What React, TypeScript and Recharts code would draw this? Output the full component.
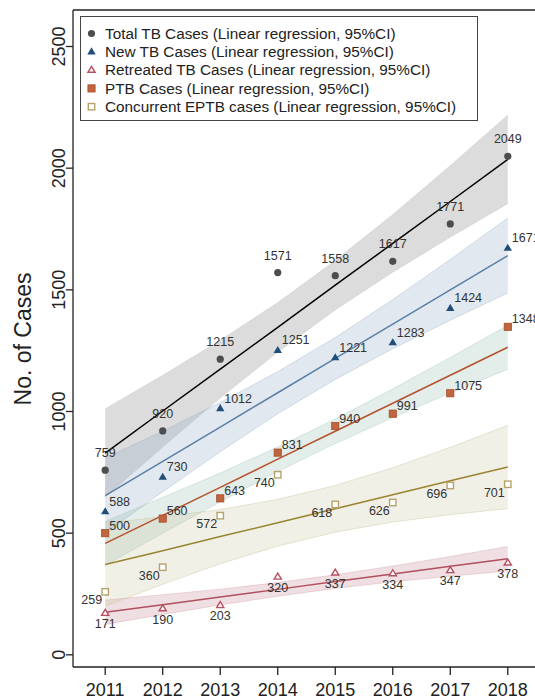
import { ComposedChart, Area, Line, XAxis, YAxis, ReferenceLine } from "recharts";

const years = [2011, 2012, 2013, 2014, 2015, 2016, 2017, 2018];

// observed cases
const totalCases = [759, 920, 1215, 1571, 1558, 1617, 1771, 2049];
const newCases = [588, 730, 1012, 1251, 1221, 1283, 1424, 1671];
const retreatedCases = [171, 190, 203, 320, 337, 334, 347, 378];
const ptbCases = [500, 560, 643, 831, 940, 991, 1075, 1348];
const eptbCases = [259, 360, 572, 740, 618, 626, 696, 701];

// fitted lines and 95% CI bounds
const totalFit = [829, 1002, 1174, 1346, 1519, 1691, 1863, 2036];
const totalLow = [648, 854, 1055, 1244, 1417, 1572, 1716, 1854];
const totalHigh = [1011, 1149, 1293, 1448, 1621, 1810, 2011, 2218];

const newFit = [654, 795, 936, 1077, 1218, 1359, 1500, 1641];
const newLow = [500, 670, 835, 991, 1132, 1258, 1375, 1487];
const newHigh = [808, 920, 1037, 1164, 1304, 1460, 1625, 1795];

const retreatedFit = [175, 206, 238, 269, 301, 332, 364, 395];
const retreatedLow = [125, 166, 205, 241, 273, 300, 323, 345];
const retreatedHigh = [225, 247, 270, 297, 329, 365, 404, 445];

const ptbFit = [458, 573, 688, 804, 919, 1034, 1149, 1264];
const ptbLow = [368, 500, 629, 753, 868, 975, 1076, 1174];
const ptbHigh = [548, 647, 747, 854, 969, 1093, 1222, 1354];

const eptbFit = [371, 428, 486, 543, 600, 658, 715, 772];
const eptbLow = [200, 290, 374, 447, 504, 546, 576, 601];
const eptbHigh = [542, 567, 597, 639, 696, 769, 853, 943];

const yTicks = [0, 500, 1000, 1500, 2000, 2500];

const legendItems = [
  "Total TB Cases (Linear regression, 95%CI)",
  "New TB Cases (Linear regression, 95%CI)",
  "Retreated TB Cases (Linear regression, 95%CI)",
  "PTB Cases (Linear regression, 95%CI)",
  "Concurrent EPTB cases (Linear regression, 95%CI)",
];

const FONT = "'Liberation Sans', Arial, sans-serif";
const LABEL_COLOR = "#333";

const data = years.map((year, i) => ({
  year,
  total: totalCases[i],
  newc: newCases[i],
  retreated: retreatedCases[i],
  ptb: ptbCases[i],
  eptb: eptbCases[i],
  totalFit: totalFit[i],
  newFit: newFit[i],
  retreatedFit: retreatedFit[i],
  ptbFit: ptbFit[i],
  eptbFit: eptbFit[i],
  totalBand: [totalLow[i], totalHigh[i]],
  newBand: [newLow[i], newHigh[i]],
  retreatedBand: [retreatedLow[i], retreatedHigh[i]],
  ptbBand: [ptbLow[i], ptbHigh[i]],
  eptbBand: [eptbLow[i], eptbHigh[i]],
}));

type Kind = "total" | "new" | "retreated" | "ptb" | "eptb";

function Marker({ kind, x, y }: { kind: Kind; x: number; y: number }) {
  if (kind === "total") return <circle cx={x} cy={y} r={3.6} fill="#4d4d4d" />;
  if (kind === "new")
    return <polygon points={`${x},${y - 4.5} ${x + 4.2},${y + 2.6} ${x - 4.2},${y + 2.6}`} fill="#1f4e79" />;
  if (kind === "retreated")
    return (
      <polygon
        points={`${x},${y - 3.8} ${x + 3.6},${y + 2.2} ${x - 3.6},${y + 2.2}`}
        fill="#fff"
        stroke="#b8505f"
        strokeWidth={1.4}
      />
    );
  if (kind === "ptb")
    return <rect x={x - 3.6} y={y - 3.6} width={7.2} height={7.2} fill="#c0663e" stroke="#a64c2a" strokeWidth={0.8} />;
  return <rect x={x - 3.2} y={y - 3.2} width={6.4} height={6.4} fill="#fff" stroke="#b4a368" strokeWidth={1.4} />;
}

const makeDot = (kind: Kind) => (props: any) => {
  const { cx, cy, value, index } = props;
  if (cx == null || cy == null) return <g key={`${kind}-${index}`} />;
  let tx = cx;
  let ty = cy;
  let anchor: "start" | "middle" | "end" = "middle";
  if (kind === "total") {
    ty = cy - 13;
  } else if (kind === "new") {
    tx = cx + 4;
    ty = cy - 6;
    anchor = "start";
  } else if (kind === "retreated") {
    ty = cy + 15;
  } else if (kind === "ptb") {
    tx = cx + 4;
    ty = cy - 3.5;
    anchor = "start";
  } else {
    tx = cx - 3;
    ty = cy + 12.5;
    anchor = "end";
  }
  return (
    <g key={`${kind}-${index}`}>
      <Marker kind={kind} x={cx} y={cy} />
      <text x={tx} y={ty} textAnchor={anchor} fontSize={12.5} fill={LABEL_COLOR} fontFamily={FONT}>
        {value}
      </text>
    </g>
  );
};

const YTick = (props: any) => {
  const { y, payload } = props;
  return (
    <text x={65} y={y} transform={`rotate(-90, 65, ${y})`} textAnchor="middle" fontSize={18} fill="#222" fontFamily={FONT}>
      {payload.value}
    </text>
  );
};

const XTick = (props: any) => {
  const { x, payload } = props;
  return (
    <text x={x} y={696} textAnchor="middle" fontSize={18} fill="#222" fontFamily={FONT}>
      {payload.value}
    </text>
  );
};

const YLabel = () => (
  <text x={31} y={339} transform="rotate(-90, 31, 339)" textAnchor="middle" fontSize={23} fill="#222" fontFamily={FONT}>
    No. of Cases
  </text>
);

function LegendBox() {
  const kinds: Kind[] = ["total", "new", "retreated", "ptb", "eptb"];
  return (
    <div
      style={{
        position: "absolute",
        left: 80,
        top: 16,
        width: 398,
        height: 105,
        border: "1px solid #444",
        background: "#fff",
        boxSizing: "border-box",
      }}
    >
      <svg width={398} height={105} style={{ position: "absolute", left: 0, top: 0 }}>
        {legendItems.map((label, i) => {
          const y = 16.5 + i * 18.3;
          return (
            <g key={label}>
              <Marker kind={kinds[i]} x={10.5} y={y} />
              <text x={24} y={y + 5.3} fontSize={15.3} fill="#222" fontFamily={FONT}>
                {label}
              </text>
            </g>
          );
        })}
      </svg>
    </div>
  );
}

export default function App() {
  return (
    <div style={{ position: "absolute", left: 0, top: 0, width: 535, height: 699, overflow: "hidden", background: "#fff" }}>
      <ComposedChart width={545} height={699} data={data} margin={{ top: 10, right: 5, bottom: 0, left: 0 }}>
        <XAxis
          dataKey="year"
          type="number"
          domain={[2010.44, 2018.56]}
          ticks={years}
          height={32}
          tickSize={8}
          tick={<XTick />}
          axisLine={{ stroke: "#222", strokeWidth: 1.3 }}
          tickLine={{ stroke: "#222", strokeWidth: 1.3 }}
          allowDataOverflow
        />
        <YAxis
          type="number"
          domain={[-50, 2650]}
          ticks={yTicks}
          width={73}
          tickSize={7}
          tick={<YTick />}
          axisLine={{ stroke: "#222", strokeWidth: 1.3 }}
          tickLine={{ stroke: "#222", strokeWidth: 1.3 }}
          label={<YLabel />}
          allowDataOverflow
        />
        <ReferenceLine y={2650} stroke="#222" strokeWidth={1.3} />

        <Area dataKey="totalBand" type="linear" fill="#8c8c8c" fillOpacity={0.3} stroke="#8c8c8c" strokeOpacity={0.15} isAnimationActive={false} />
        <Area dataKey="newBand" type="linear" fill="#87a3c2" fillOpacity={0.25} stroke="#87a3c2" strokeOpacity={0.3} isAnimationActive={false} />
        <Area dataKey="retreatedBand" type="linear" fill="#c98a94" fillOpacity={0.27} stroke="#c98a94" strokeOpacity={0.3} isAnimationActive={false} />
        <Area dataKey="ptbBand" type="linear" fill="#8fb8ad" fillOpacity={0.25} stroke="#8fb8ad" strokeOpacity={0.3} isAnimationActive={false} />
        <Area dataKey="eptbBand" type="linear" fill="#c9c29a" fillOpacity={0.25} stroke="#c9c29a" strokeOpacity={0.4} isAnimationActive={false} />

        <Line dataKey="totalFit" type="linear" stroke="#000" strokeWidth={1.5} dot={false} isAnimationActive={false} />
        <Line dataKey="newFit" type="linear" stroke="#5a7fa6" strokeWidth={1.5} dot={false} isAnimationActive={false} />
        <Line dataKey="retreatedFit" type="linear" stroke="#b0505e" strokeWidth={1.5} dot={false} isAnimationActive={false} />
        <Line dataKey="ptbFit" type="linear" stroke="#b5522c" strokeWidth={1.5} dot={false} isAnimationActive={false} />
        <Line dataKey="eptbFit" type="linear" stroke="#9a8430" strokeWidth={1.5} dot={false} isAnimationActive={false} />

        <Line dataKey="total" stroke="none" dot={makeDot("total")} activeDot={false} isAnimationActive={false} />
        <Line dataKey="newc" stroke="none" dot={makeDot("new")} activeDot={false} isAnimationActive={false} />
        <Line dataKey="retreated" stroke="none" dot={makeDot("retreated")} activeDot={false} isAnimationActive={false} />
        <Line dataKey="ptb" stroke="none" dot={makeDot("ptb")} activeDot={false} isAnimationActive={false} />
        <Line dataKey="eptb" stroke="none" dot={makeDot("eptb")} activeDot={false} isAnimationActive={false} />
      </ComposedChart>
      <LegendBox />
    </div>
  );
}
